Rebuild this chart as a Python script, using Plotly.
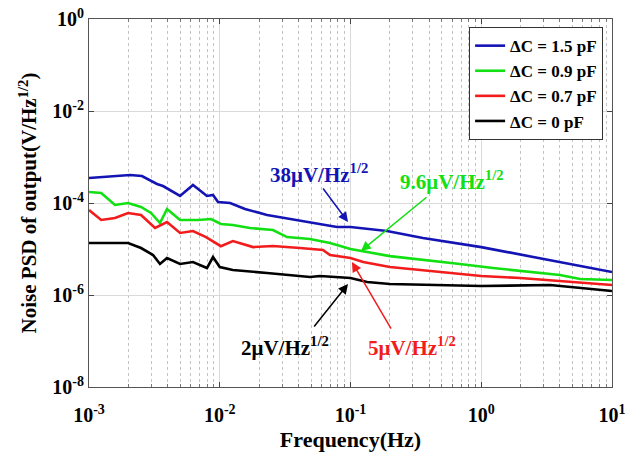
import math
import plotly.graph_objects as go

# ---------------- data ----------------
f_blue = [0.001, 0.00206, 0.00254, 0.00331, 0.00368, 0.00497, 0.00624, 0.00798, 0.00888,
          0.0097, 0.012, 0.0156, 0.023, 0.039, 0.0788, 0.1, 0.19, 0.358, 0.687, 1.0, 10]
v_blue = [3.5e-4, 4.06e-4, 3.86e-4, 2.59e-4, 2.34e-4, 1.42e-4, 2.46e-4, 1.42e-4, 1.49e-4,
          1.05e-4, 1.0e-4, 7.4e-5, 5.5e-5, 4.27e-5, 3.0e-5, 3.0e-5, 2.46e-5, 1.74e-5, 1.29e-5,
          1.1e-5, 3.16e-6]

f_green = [0.001, 0.00124, 0.00158, 0.00199, 0.0025, 0.00298, 0.00349, 0.00395, 0.00497,
           0.00682, 0.00857, 0.0102, 0.0126, 0.017, 0.0255, 0.0327, 0.049, 0.0697, 0.1, 0.2,
           0.687, 1.0, 1.23, 4.0, 5.69, 10]
v_green = [1.73e-4, 1.65e-4, 9.05e-5, 1.0e-4, 8.19e-5, 6.07e-5, 3.67e-5, 7.4e-5, 4.27e-5,
           4.27e-5, 4.49e-5, 3.5e-5, 3.32e-5, 2.86e-5, 2.59e-5, 1.82e-5, 1.65e-5, 1.35e-5,
           1.0e-5, 7.0e-6, 4.72e-6, 4.06e-6, 3.86e-6, 2.72e-6, 2.23e-6, 2.12e-6]

f_red = [0.001, 0.00124, 0.00158, 0.00199, 0.0025, 0.0032, 0.00395, 0.00497, 0.00624,
         0.00785, 0.0102, 0.0126, 0.018, 0.0255, 0.0411, 0.0616, 0.0697, 0.1, 0.125, 0.2,
         0.239, 0.687, 1.0, 1.98, 5.69, 10]
v_red = [7.05e-5, 4.27e-5, 4.72e-5, 6.07e-5, 5.5e-5, 2.86e-5, 3.86e-5, 2.23e-5, 2.46e-5,
         1.82e-5, 1.15e-5, 1.49e-5, 1.1e-5, 1.16e-5, 1.05e-5, 9.5e-6, 7.4e-6, 6.4e-6, 5.2e-6,
         4.06e-6, 3.86e-6, 2.86e-6, 2.59e-6, 2.34e-6, 1.82e-6, 1.65e-6]

f_black = [0.001, 0.00199, 0.0025, 0.00309, 0.00349, 0.00395, 0.00497, 0.00624, 0.00798,
           0.00888, 0.01, 0.0126, 0.023, 0.049, 0.0585, 0.1, 0.134, 0.2, 1.0, 3.36, 10]
v_black = [1.35e-5, 1.35e-5, 1.05e-5, 7.4e-6, 4.72e-6, 6.37e-6, 4.72e-6, 5.2e-6, 3.86e-6,
           6.7e-6, 4.06e-6, 3.5e-6, 3.0e-6, 2.46e-6, 2.59e-6, 2.34e-6, 1.92e-6, 1.73e-6,
           1.57e-6, 1.65e-6, 1.22e-6]

series_names = ["ΔC = 1.5 pF", "ΔC = 0.9 pF", "ΔC = 0.7 pF", "ΔC = 0 pF"]
x_tick_vals = [1e-3, 1e-2, 1e-1, 1e0, 1e1]
x_tick_text = ["10<sup>-3</sup>", "10<sup>-2</sup>", "10<sup>-1</sup>", "10<sup>0</sup>", "10<sup>1</sup>"]
y_tick_vals = [1e-8, 1e-6, 1e-4, 1e-2, 1e0]
y_tick_text = ["10<sup>-8</sup>", "10<sup>-6</sup>", "10<sup>-4</sup>", "10<sup>-2</sup>", "10<sup>0</sup>"]

ann_texts = ["38μV/Hz<sup>1/2</sup>", "9.6μV/Hz<sup>1/2</sup>", "5μV/Hz<sup>1/2</sup>", "2μV/Hz<sup>1/2</sup>"]

# ---------------- styling ----------------
FONT = "Liberation Serif"
colors = ["#1414b4", "#12e012", "#f21c1c", "#000000"]

fig = go.Figure()
for fx, vy, name, c in zip([f_blue, f_green, f_red, f_black],
                           [v_blue, v_green, v_red, v_black], series_names, colors):
    fig.add_trace(go.Scatter(x=fx, y=vy, mode="lines", name=name,
                             line=dict(color=c, width=2.6)))

minor_x = [m * 10 ** e for e in range(-3, 1) for m in range(2, 10)]

fig.update_layout(
    width=626, height=454,
    margin=dict(l=89, r=14, t=19, b=67),
    paper_bgcolor="white", plot_bgcolor="white",
    font=dict(family=FONT, size=19, color="black", weight="bold"),
    showlegend=True,
    legend=dict(x=0.983, y=0.978, xanchor="right", yanchor="top",
                bgcolor="white", bordercolor="#333", borderwidth=1,
                font=dict(family=FONT, size=17, color="black", weight="bold"),
                itemwidth=30),
)

fig.update_xaxes(
    type="log", range=[-3, 1], automargin=False,
    tickmode="array", tickvals=x_tick_vals, ticktext=x_tick_text,
    ticks="inside", ticklen=5, tickcolor="#444",
    showline=True, linecolor="#555", linewidth=1, mirror="allticks",
    showgrid=True, gridcolor="#dadada", gridwidth=1,
    ticklabelstandoff=10, ticklabeloverflow="allow",
    tickfont=dict(family=FONT, size=20, weight="bold"),
    minor=dict(tickmode="array", tickvals=minor_x, ticks="inside", ticklen=3,
               tickcolor="#777", showgrid=True, gridcolor="#c4c4c4", griddash="dot",
               gridwidth=1),
    title=dict(text="Frequency(Hz)", font=dict(family=FONT, size=22, weight="bold"), standoff=6),
    zeroline=False,
)
fig.update_yaxes(
    type="log", range=[-8, 0], automargin=False,
    tickmode="array", tickvals=y_tick_vals, ticktext=y_tick_text,
    ticks="inside", ticklen=5, tickcolor="#444",
    showline=True, linecolor="#555", linewidth=1, mirror="allticks",
    showgrid=True, gridcolor="#dadada", gridwidth=1,
    ticklabeloverflow="allow",
    tickfont=dict(family=FONT, size=20, weight="bold"),
    title=dict(text="Noise PSD of output(V/Hz<sup>1/2</sup>)",
               font=dict(family=FONT, size=21, weight="bold"), standoff=9),
    zeroline=False,
)

# text labels (positions in log10 axis units)
text_pos = [(-1.241, -3.348), (-0.224, -3.50), (-0.530, -7.13), (-1.501, -7.13)]
for (tx, ty), t, c in zip(text_pos, ann_texts, colors):
    fig.add_annotation(x=tx, y=ty, xref="x", yref="y", text=t, showarrow=False,
                       font=dict(family=FONT, size=21, color=c, weight="bold"))

# arrows: (tail x, tail y, tip x, tip y) in log10 axis units
arrows = [(-1.218, -3.652, -1.019, -4.413),
          (-0.407, -3.848, -0.920, -5.043),
          (-0.683, -6.761, -0.989, -5.283),
          (-1.287, -6.717, -1.019, -5.761)]
for (ax_, ay_, x_, y_), c in zip(arrows, colors):
    fig.add_annotation(x=x_, y=y_, ax=ax_, ay=ay_, xref="x", yref="y", axref="x", ayref="y",
                       text="", showarrow=True, arrowhead=2, arrowsize=1.3, arrowwidth=1.5,
                       arrowcolor=c)

fig.write_html("out.html", config={"displayModeBar": False},
               post_script="document.body.style.margin='0';document.body.style.overflow='hidden';")
